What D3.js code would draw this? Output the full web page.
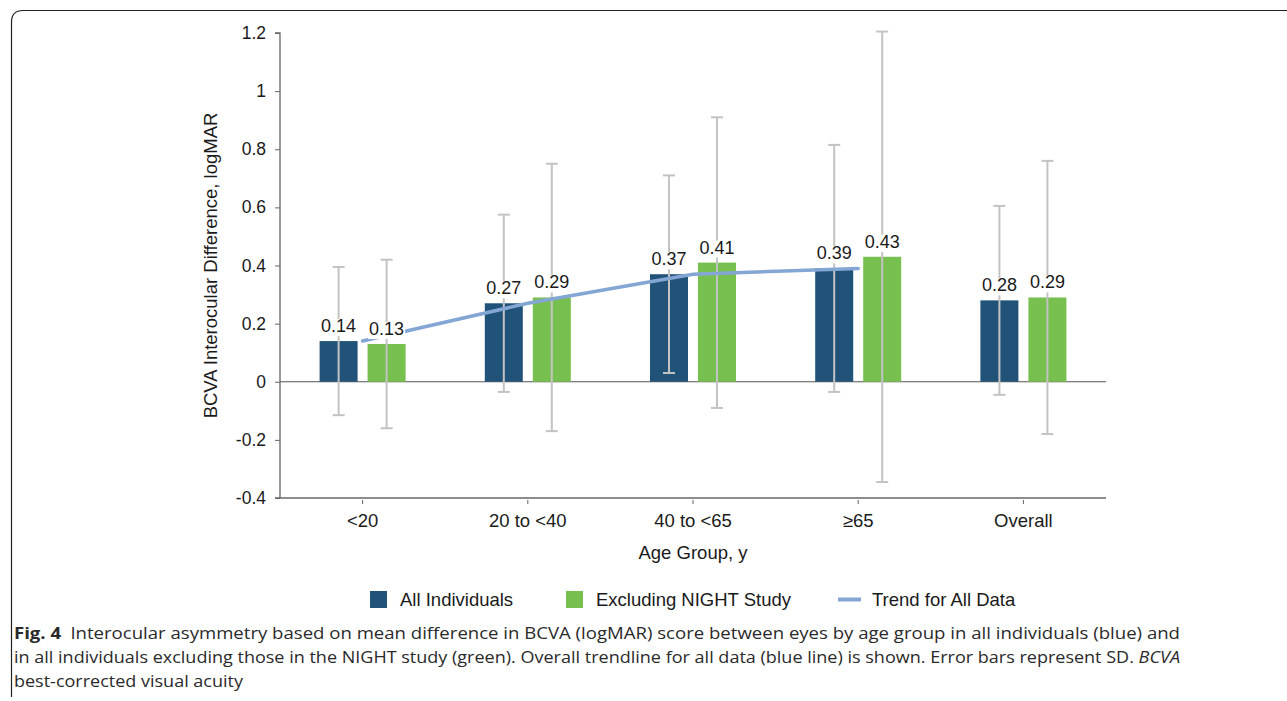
<!DOCTYPE html>
<html>
<head>
<meta charset="utf-8">
<script src="https://cdn.jsdelivr.net/npm/d3@7"></script>
<style>
  html, body { margin: 0; padding: 0; background: #fff; }
  svg { display: block; }
</style>
</head>
<body>
<script>
// Age groups and mean interocular BCVA difference (logMAR)
const categories = ["<20", "20 to <40", "40 to <65", "\u226565", "Overall"];
const allIndividuals = [0.14, 0.27, 0.37, 0.39, 0.28];
const excludingNight = [0.13, 0.29, 0.41, 0.43, 0.29];
// Standard deviations (error bars)
const sdAll = [0.255, 0.305, 0.34, 0.425, 0.325];
const sdExcl = [0.29, 0.46, 0.50, 0.775, 0.47];
// Trend across the four age groups (all data)
const trendCategories = ["<20", "20 to <40", "40 to <65", "\u226565"];
const trendValues = [0.14, 0.27, 0.37, 0.39];
const yTicks = [-0.4, -0.2, 0, 0.2, 0.4, 0.6, 0.8, 1, 1.2];
const seriesNames = ["All Individuals", "Excluding NIGHT Study", "Trend for All Data"];

const W = 1287, H = 701;
const COL_ALL = "#215379", COL_EXCL = "#77bf4e", COL_TREND = "#84a6d4", COL_ERR = "#c3c3c3";
const FONT = "'Liberation Sans', Arial, sans-serif";
const TXT = "#1a1a1a";

const svg = d3.select("body").append("svg").attr("width", W).attr("height", H);

// panel frame with rounded top-left corner
svg.append("path")
  .attr("d", `M11.5,697 L11.5,22 Q11.5,10.5 23,10.5 L1287,10.5`)
  .attr("fill", "none").attr("stroke", "#222").attr("stroke-width", 1.2);

const plotL = 280, plotR = 1106, plotT = 33, plotB = 498;
const x = d3.scaleBand().domain(categories).range([plotL, plotR]);
const y = d3.scaleLinear().domain([-0.4, 1.2]).range([plotB, plotT]);
const barW = 38, offset = 24;

const g = svg.append("g");

// y axis (plain hyphen for negatives)
const yAxis = g.append("g").attr("transform", `translate(${plotL},0)`)
  .call(d3.axisLeft(y).tickValues(yTicks).tickSize(5).tickPadding(9)
    .tickFormat(d => String(+d.toFixed(1))));
yAxis.select(".domain").attr("stroke", "#666").attr("stroke-width", 1.3).attr("d", `M-5,${plotT}H0V${plotB}`);
yAxis.selectAll(".tick line").attr("stroke", "#666");
yAxis.selectAll(".tick text").attr("font-family", FONT).attr("font-size", 17.5).attr("fill", TXT);

// x axis along the bottom
const xAxis = g.append("g").attr("transform", `translate(0,${plotB})`)
  .call(d3.axisBottom(x).tickSize(6).tickPadding(10).tickSizeOuter(0));
xAxis.select(".domain").attr("stroke", "#666").attr("stroke-width", 1.3).attr("d", `M${plotL - 5},0H${plotR}`);
xAxis.selectAll(".tick line").attr("stroke", "#666").attr("y1", 2);
xAxis.selectAll(".tick text").attr("font-family", FONT).attr("font-size", 18.5).attr("fill", TXT);

// zero line
g.append("line").attr("x1", plotL).attr("x2", plotR).attr("y1", y(0)).attr("y2", y(0))
  .attr("stroke", "#555").attr("stroke-width", 1.2);

// axis titles
g.append("text").attr("transform", `translate(217,${(plotT + plotB) / 2}) rotate(-90)`)
  .attr("text-anchor", "middle").attr("font-family", FONT).attr("font-size", 18.5).attr("fill", TXT)
  .text("BCVA Interocular Difference, logMAR");
g.append("text").attr("x", (plotL + plotR) / 2).attr("y", 559)
  .attr("text-anchor", "middle").attr("font-family", FONT).attr("font-size", 18.5).attr("fill", TXT)
  .text("Age Group, y");

const center = c => x(c) + x.bandwidth() / 2;

const groups = [
  { values: allIndividuals, sd: sdAll, color: COL_ALL, dx: -offset },
  { values: excludingNight, sd: sdExcl, color: COL_EXCL, dx: offset }
];

// bars
groups.forEach(s => {
  g.append("g").selectAll("rect").data(categories).join("rect")
    .attr("x", (c) => center(c) + s.dx - barW / 2)
    .attr("width", barW)
    .attr("y", (c, i) => y(Math.max(0, s.values[i])))
    .attr("height", (c, i) => Math.abs(y(s.values[i]) - y(0)))
    .attr("fill", s.color);
});

// error bars
groups.forEach(s => {
  const eg = g.append("g").attr("stroke", COL_ERR).attr("stroke-width", 2);
  categories.forEach((c, i) => {
    const cx = center(c) + s.dx;
    const hi = y(s.values[i] + s.sd[i]), lo = y(s.values[i] - s.sd[i]);
    eg.append("line").attr("x1", cx).attr("x2", cx).attr("y1", hi).attr("y2", lo);
    eg.append("line").attr("x1", cx - 6).attr("x2", cx + 6).attr("y1", hi).attr("y2", hi);
    eg.append("line").attr("x1", cx - 6).attr("x2", cx + 6).attr("y1", lo).attr("y2", lo);
  });
});

// trend line through group centres
const line = d3.line().x(c => center(c)).y((c, i) => y(trendValues[i]));
g.append("path").datum(trendCategories).attr("d", line)
  .attr("fill", "none").attr("stroke", COL_TREND).attr("stroke-width", 3.5).attr("stroke-linecap", "round");

// value labels with white backing
groups.forEach(s => {
  categories.forEach((c, i) => {
    const cx = center(c) + s.dx;
    const ty = y(s.values[i]) - 9;
    const txt = d3.format(".2f")(s.values[i]);
    const lg = g.append("g");
    const t = lg.append("text").attr("x", cx).attr("y", ty).attr("text-anchor", "middle")
      .attr("font-family", FONT).attr("font-size", 18).attr("fill", TXT).text(txt);
    const bb = t.node().getBBox();
    lg.insert("rect", "text").attr("x", bb.x - 1).attr("y", bb.y + 3).attr("width", bb.width + 2)
      .attr("height", bb.height - 3).attr("fill", "#fff");
  });
});

// legend
const leg = svg.append("g").attr("font-family", FONT).attr("font-size", 18.5).attr("fill", TXT);
const legX = [370, 566, 838];
leg.append("rect").attr("x", legX[0]).attr("y", 591).attr("width", 17).attr("height", 17).attr("fill", COL_ALL);
leg.append("rect").attr("x", legX[1]).attr("y", 591).attr("width", 17).attr("height", 17).attr("fill", COL_EXCL);
leg.append("line").attr("x1", legX[2]).attr("x2", legX[2] + 23).attr("y1", 599.5).attr("y2", 599.5)
  .attr("stroke", COL_TREND).attr("stroke-width", 4);
leg.append("text").attr("x", legX[0] + 30).attr("y", 606).text(seriesNames[0]);
leg.append("text").attr("x", legX[1] + 30).attr("y", 606).text(seriesNames[1]);
leg.append("text").attr("x", legX[2] + 34).attr("y", 606).text(seriesNames[2]);

// figure caption
const CAP = "'Open Sans', 'Noto Sans', sans-serif";
const cap = svg.append("g").attr("font-family", CAP).attr("font-size", 16.5).attr("fill", "#2a2a2a");
const l1 = cap.append("text").attr("x", 14).attr("y", 639).attr("textLength", 1166).attr("lengthAdjust", "spacingAndGlyphs");
l1.append("tspan").attr("font-weight", "bold").text("Fig. 4");
l1.append("tspan").text("\u2002Interocular asymmetry based on mean difference in BCVA (logMAR) score between eyes by age group in all individuals (blue) and");
const l2 = cap.append("text").attr("x", 14).attr("y", 663).attr("textLength", 1166).attr("lengthAdjust", "spacingAndGlyphs");
l2.append("tspan").text("in all individuals excluding those in the NIGHT study (green). Overall trendline for all data (blue line) is shown. Error bars represent SD. ");
l2.append("tspan").attr("font-style", "italic").text("BCVA");
cap.append("text").attr("x", 14).attr("y", 687).attr("textLength", 229).attr("lengthAdjust", "spacingAndGlyphs")
  .text("best-corrected visual acuity");
</script>
</body>
</html>
